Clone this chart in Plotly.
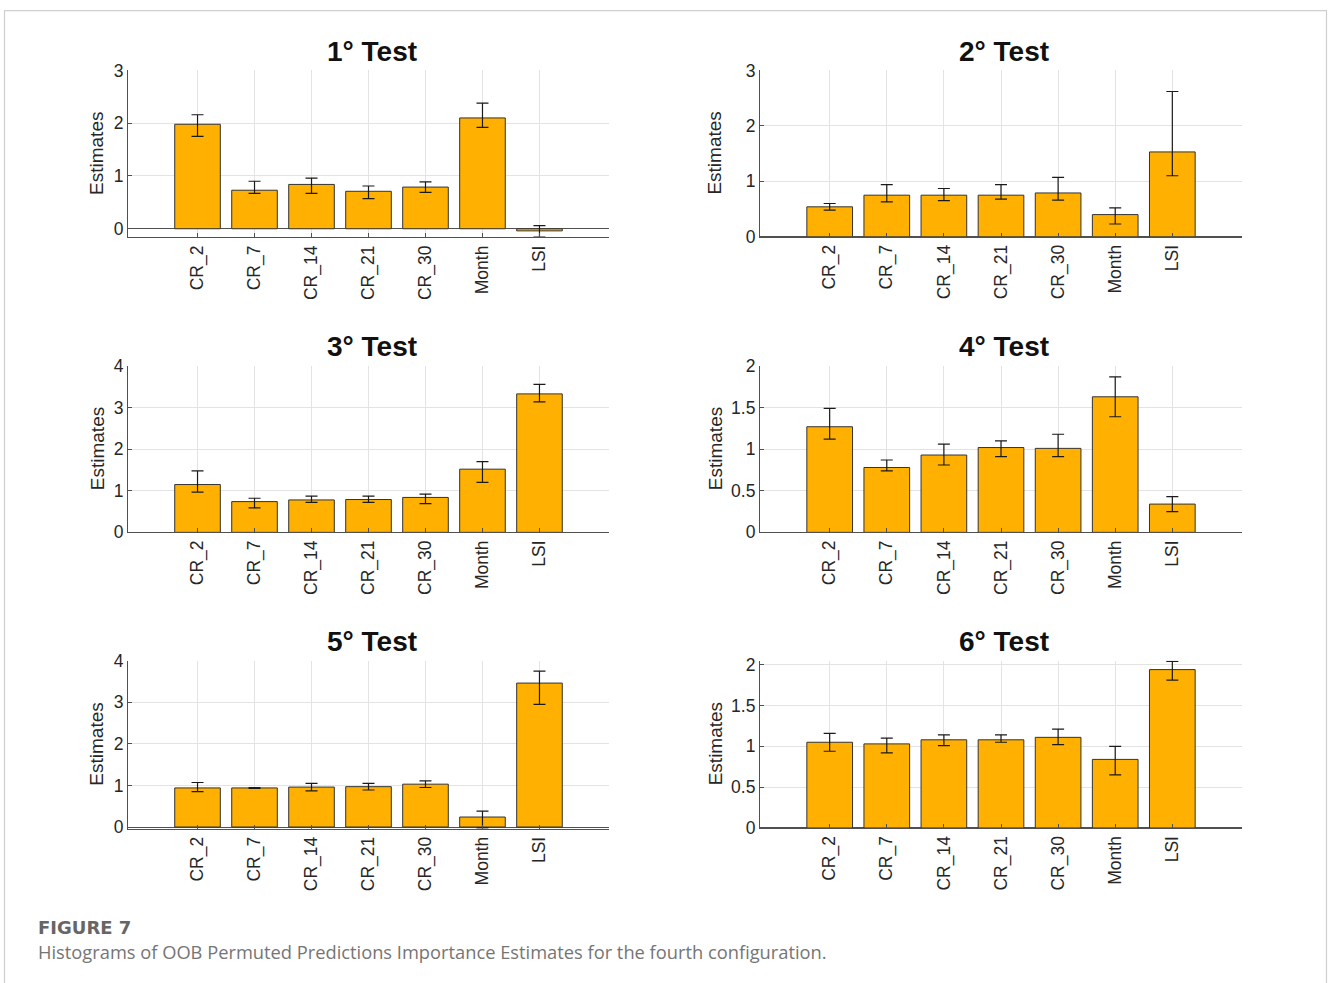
import plotly.graph_objects as go

W, H = 1328, 1000
TOP = 10.7      # page space above the figure
VSCALE = 0.978  # rendered row pitch of the figure on the page

categories = ["CR_2", "CR_7", "CR_14", "CR_21", "CR_30", "Month", "LSI"]

titles = ["1° Test", "2° Test", "3° Test", "4° Test", "5° Test", "6° Test"]

# Estimates and error-bar limits for each test
test1_est = [1.98, 0.73, 0.84, 0.71, 0.79, 2.10, -0.04]
test1_hi = [2.16, 0.90, 0.96, 0.81, 0.89, 2.38, 0.06]
test1_lo = [1.75, 0.67, 0.67, 0.57, 0.69, 1.92, -0.16]

test2_est = [0.54, 0.75, 0.75, 0.75, 0.79, 0.40, 1.53]
test2_hi = [0.60, 0.94, 0.87, 0.94, 1.07, 0.52, 2.62]
test2_lo = [0.48, 0.63, 0.65, 0.68, 0.66, 0.23, 1.10]

test3_est = [1.15, 0.74, 0.78, 0.79, 0.84, 1.52, 3.33]
test3_hi = [1.48, 0.82, 0.87, 0.87, 0.92, 1.70, 3.56]
test3_lo = [0.97, 0.59, 0.72, 0.72, 0.69, 1.20, 3.14]

test4_est = [1.27, 0.78, 0.93, 1.02, 1.01, 1.63, 0.34]
test4_hi = [1.49, 0.87, 1.06, 1.10, 1.18, 1.87, 0.43]
test4_lo = [1.12, 0.74, 0.81, 0.91, 0.91, 1.39, 0.25]

test5_est = [0.94, 0.94, 0.96, 0.97, 1.03, 0.24, 3.46]
test5_hi = [1.07, 0.95, 1.05, 1.05, 1.11, 0.38, 3.75]
test5_lo = [0.85, 0.93, 0.87, 0.89, 0.95, -0.02, 2.95]

test6_est = [1.05, 1.03, 1.08, 1.08, 1.11, 0.84, 1.94]
test6_hi = [1.16, 1.10, 1.14, 1.14, 1.21, 1.00, 2.04]
test6_lo = [0.94, 0.92, 1.01, 1.05, 1.02, 0.65, 1.81]

y_ticks = [
    [0, 1, 2, 3],
    [0, 1, 2, 3],
    [0, 1, 2, 3, 4],
    [0, 0.5, 1, 1.5, 2],
    [0, 1, 2, 3, 4],
    [0, 0.5, 1, 1.5, 2],
]
y_tick_text = [
    ["0", "1", "2", "3"],
    ["0", "1", "2", "3"],
    ["0", "1", "2", "3", "4"],
    ["0", "0.5", "1", "1.5", "2"],
    ["0", "1", "2", "3", "4"],
    ["0", "0.5", "1", "1.5", "2"],
]

panels = [
    (test1_est, test1_hi, test1_lo),
    (test2_est, test2_hi, test2_lo),
    (test3_est, test3_hi, test3_lo),
    (test4_est, test4_hi, test4_lo),
    (test5_est, test5_hi, test5_lo),
    (test6_est, test6_hi, test6_lo),
]

# axis rectangles in page pixels: (left, right, top, bottom) and y range
boxes = [
    (128, 609, 71, 237.7, [-0.165, 3]),
    (760, 1242, 71, 237, [0, 3]),
    (128, 609, 366, 532, [0, 4]),
    (760, 1242, 366, 532, [0, 2]),
    (128, 609, 660, 827.7, [-0.04, 4]),
    (760, 1242, 660, 827, [0, 2.05]),
]


def py(y_page):
    """Page pixel row -> paper fraction of the figure."""
    return 1 - ((y_page - TOP) / VSCALE) / H


BAR = "#FFB000"
AX = "#505050"
GRID = "#e3e3e3"
FONT = "Liberation Sans, Arial, sans-serif"
CAP_FONT = "Open Sans, sans-serif"

fig = go.Figure()
layout = dict(
    width=W, height=H, autosize=False,
    margin=dict(l=0, r=0, t=0, b=0, pad=0),
    paper_bgcolor="white",
    plot_bgcolor="white",
    showlegend=False,
    font=dict(family=FONT, color="#262626"),
)
annotations = []
xpos = list(range(len(categories)))

for i, ((est, hi, lo), (l, r, t, b, yr)) in enumerate(zip(panels, boxes)):
    n = i + 1
    xa = "x" if n == 1 else f"x{n}"
    ya = "y" if n == 1 else f"y{n}"
    plus = [h - e for h, e in zip(hi, est)]
    minus = [e - lo_ for e, lo_ in zip(est, lo)]
    fig.add_trace(go.Bar(
        x=xpos, y=est, width=0.8,
        marker=dict(color=BAR, line=dict(color="#333333", width=1)),
        error_y=dict(type="data", array=plus, arrayminus=minus,
                     color="#1a1a1a", thickness=1.2, width=6),
        xaxis=xa, yaxis=ya,
    ))
    xd = [l / W, r / W]
    yd = [py(b), py(t)]
    layout[f"xaxis{'' if n == 1 else n}"] = dict(
        domain=xd, anchor=ya, range=[-1.22, 6 + 1.22],
        tickmode="array", tickvals=xpos, ticktext=categories,
        tickangle=-90, tickfont=dict(size=17.5, family=FONT, color="#262626"),
        showgrid=True, gridcolor=GRID, gridwidth=1,
        showline=True, linecolor=AX, linewidth=1.2,
        ticks="inside", ticklen=4, tickcolor=AX,
        zeroline=False, fixedrange=True,
    )
    layout[f"yaxis{'' if n == 1 else n}"] = dict(
        domain=yd, anchor=xa, range=yr,
        tickmode="array", tickvals=y_ticks[i], ticktext=y_tick_text[i],
        tickfont=dict(size=17.5, family=FONT, color="#262626"),
        showgrid=True, gridcolor=GRID, gridwidth=1,
        showline=True, linecolor=AX, linewidth=1.2,
        ticks="inside", ticklen=4, tickcolor=AX,
        zeroline=True, zerolinecolor=AX, zerolinewidth=1.2,
        fixedrange=True,
    )
    # panel title
    annotations.append(dict(
        text=f"<b>{titles[i]}</b>", xref="paper", yref="paper",
        x=(l + r) / 2 / W + 3 / W, y=py(t - 19),
        xanchor="center", yanchor="middle", showarrow=False,
        font=dict(size=28, family=FONT, color="#111111"),
    ))
    # y-axis title
    ytx = (97 if l < 300 else 715) / W
    annotations.append(dict(
        text="Estimates", xref="paper", yref="paper",
        x=ytx, y=py((t + b) / 2), textangle=-90,
        xanchor="center", yanchor="middle", showarrow=False,
        font=dict(size=19, family=FONT, color="#262626"),
    ))

# caption
annotations.append(dict(
    text="<b>FIGURE 7</b>", xref="paper", yref="paper",
    x=36 / W, y=py(926), xanchor="left", yanchor="middle",
    showarrow=False,
    font=dict(size=18, family="DejaVu Sans, sans-serif", color="#666666"),
))
annotations.append(dict(
    text="Histograms of OOB Permuted Predictions Importance Estimates for the fourth configuration.",
    xref="paper", yref="paper",
    x=36 / W, y=py(950), xanchor="left", yanchor="middle",
    showarrow=False, font=dict(size=18.3, family=CAP_FONT, color="#757575"),
))

layout["annotations"] = annotations
layout["shapes"] = [dict(
    type="rect", xref="paper", yref="paper",
    x0=4.5 / W, x1=1326.5 / W, y0=-0.1, y1=1 - 0.6 / H,
    line=dict(color="#cfcfcf", width=1.2), fillcolor="rgba(0,0,0,0)",
    layer="below",
)]

fig.update_layout(**layout)
fig.write_html("out.html")
